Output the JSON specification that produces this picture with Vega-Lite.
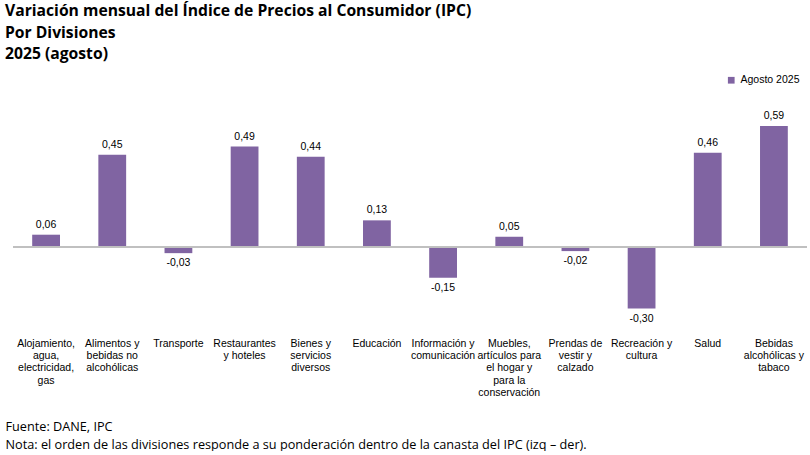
{
  "$schema": "https://vega.github.io/schema/vega-lite/v6.json",
  "width": 794,
  "height": 246,
  "padding": {"left": 5, "right": 3, "top": 3, "bottom": 0},
  "background": "white",
  "title": {
    "text": ["Variación mensual del Índice de Precios al Consumidor (IPC)", "Por Divisiones", "2025 (agosto)"],
    "anchor": "start",
    "frame": "group",
    "dx": -8,
    "font": "Open Sans",
    "fontSize": 15.7,
    "fontWeight": "bold",
    "color": "#000000",
    "lineHeight": 21.5,
    "offset": 12
  },
  "data": {
    "values": [
      {"division": "Alojamiento,|agua,|electricidad,|gas", "valor": 0.06, "serie": "Agosto 2025"},
      {"division": "Alimentos y|bebidas no|alcohólicas", "valor": 0.45, "serie": "Agosto 2025"},
      {"division": "Transporte", "valor": -0.03, "serie": "Agosto 2025"},
      {"division": "Restaurantes|y hoteles", "valor": 0.49, "serie": "Agosto 2025"},
      {"division": "Bienes y|servicios|diversos", "valor": 0.44, "serie": "Agosto 2025"},
      {"division": "Educación", "valor": 0.13, "serie": "Agosto 2025"},
      {"division": "Información y|comunicación", "valor": -0.15, "serie": "Agosto 2025"},
      {"division": "Muebles,|artículos para|el hogar y|para la|conservación", "valor": 0.05, "serie": "Agosto 2025"},
      {"division": "Prendas de|vestir y|calzado", "valor": -0.02, "serie": "Agosto 2025"},
      {"division": "Recreación y|cultura", "valor": -0.30, "serie": "Agosto 2025"},
      {"division": "Salud", "valor": 0.46, "serie": "Agosto 2025"},
      {"division": "Bebidas|alcohólicas y|tabaco", "valor": 0.59, "serie": "Agosto 2025"}
    ]
  },
  "encoding": {
    "x": {
      "field": "division",
      "type": "nominal",
      "sort": null,
      "scale": {"paddingInner": 0.58, "paddingOuter": 0.29},
      "axis": {
        "title": ["Fuente: DANE, IPC", "Nota: el orden de las divisiones responde a su ponderación dentro de la canasta del IPC (izq – der)."],
        "titleFont": "Open Sans",
        "titleFontSize": 12.7,
        "titleFontWeight": "normal",
        "titleColor": "#000000",
        "titleAnchor": "start",
        "titleAlign": "left",
        "titleBaseline": "top",
        "titleX": -8,
        "titleY": 91,
        "titleLineHeight": 18,
        "labelExpr": "split(datum.value, '|')",
        "labelAngle": 0,
        "labelAlign": "center",
        "labelBaseline": "top",
        "labelFont": "Liberation Sans",
        "labelFontSize": 10.5,
        "labelColor": "#000000",
        "labelLineHeight": 12.4,
        "labelPadding": 9,
        "labelOverlap": false,
        "labelLimit": 0,
        "ticks": false,
        "domain": false,
        "grid": false
      }
    }
  },
  "layer": [
    {
      "mark": {"type": "bar"},
      "encoding": {
        "y": {"field": "valor", "type": "quantitative", "scale": {"domain": [-0.4, 0.8], "nice": false}, "axis": null},
        "color": {
          "field": "serie",
          "type": "nominal",
          "scale": {"range": ["#8064A2"]},
          "legend": {
            "title": null,
            "orient": "none",
            "legendX": 713,
            "legendY": -8,
            "symbolType": "square",
            "symbolSize": 45,
            "labelFont": "Liberation Sans",
            "labelFontSize": 10.5,
            "labelColor": "#000000"
          }
        }
      }
    },
    {
      "mark": {"type": "rule", "color": "#BFBFBF", "strokeWidth": 1.2},
      "encoding": {"y": {"datum": 0, "type": "quantitative"}, "x": {}}
    },
    {
      "transform": [{"filter": "datum.valor >= 0"}],
      "mark": {"type": "text", "baseline": "bottom", "dy": -5, "font": "Liberation Sans", "fontSize": 10.5, "color": "#000000"},
      "encoding": {
        "y": {"field": "valor", "type": "quantitative"},
        "text": {"field": "valor", "type": "quantitative", "format": ".2f"}
      }
    },
    {
      "transform": [{"filter": "datum.valor < 0"}],
      "mark": {"type": "text", "baseline": "top", "dy": 5, "font": "Liberation Sans", "fontSize": 10.5, "color": "#000000"},
      "encoding": {
        "y": {"field": "valor", "type": "quantitative"},
        "text": {"field": "valor", "type": "quantitative", "format": ".2f"}
      }
    }
  ],
  "config": {
    "view": {"stroke": null},
    "locale": {"number": {"decimal": ",", "thousands": ".", "grouping": [3], "currency": ["$", ""], "minus": "-"}}
  }
}
